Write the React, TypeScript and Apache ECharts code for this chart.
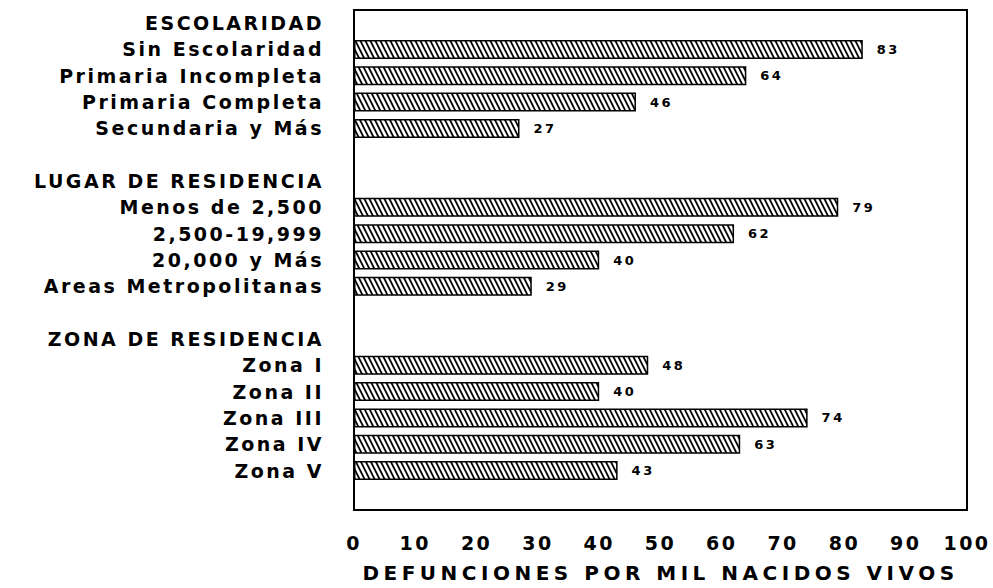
import React, { useEffect, useRef } from "react";
import * as echarts from "echarts";

// ---- data ----
const groupHeaders = ["ESCOLARIDAD", "LUGAR DE RESIDENCIA", "ZONA DE RESIDENCIA"];
const escolaridadLabels = ["Sin Escolaridad", "Primaria Incompleta", "Primaria Completa", "Secundaria y Más"];
const escolaridadValues = [83, 64, 46, 27];
const lugarLabels = ["Menos de 2,500", "2,500-19,999", "20,000 y Más", "Areas Metropolitanas"];
const lugarValues = [79, 62, 40, 29];
const zonaLabels = ["Zona I", "Zona II", "Zona III", "Zona IV", "Zona V"];
const zonaValues = [48, 40, 74, 63, 43];
const xMin = 0;
const xMax = 100;
const xInterval = 10;
const xAxisTitle = "DEFUNCIONES POR MIL NACIDOS VIVOS";

const groups = [
  { header: groupHeaders[0], labels: escolaridadLabels, values: escolaridadValues },
  { header: groupHeaders[1], labels: lugarLabels, values: lugarValues },
  { header: groupHeaders[2], labels: zonaLabels, values: zonaValues },
];

const categories: string[] = [];
const seriesData: (number | null)[] = [];
groups.forEach((g, gi) => {
  categories.push(g.header);
  seriesData.push(null);
  g.labels.forEach((l, i) => {
    categories.push(l);
    seriesData.push(g.values[i]);
  });
  categories.push(" ".repeat(gi + 1));
  seriesData.push(null);
});

const FONT = "DejaVu Sans";

function makeHatch(): HTMLCanvasElement {
  const c = document.createElement("canvas");
  c.width = 5;
  c.height = 10;
  const ctx = c.getContext("2d")!;
  ctx.fillStyle = "#fff";
  ctx.fillRect(0, 0, 5, 10);
  ctx.strokeStyle = "#000";
  ctx.lineWidth = 1.8;
  for (const x0 of [-5, 0, 5]) {
    ctx.beginPath();
    ctx.moveTo(x0 - 0.5, -1);
    ctx.lineTo(x0 + 5.5, 11);
    ctx.stroke();
  }
  return c;
}

export default function App() {
  const ref = useRef<HTMLDivElement>(null);
  useEffect(() => {
    if (!ref.current) return;
    const chart = echarts.init(ref.current, null, { renderer: "svg" });
    const hatch = makeHatch();
    chart.setOption({
      animation: false,
      backgroundColor: "#fff",
      grid: {
        left: 354,
        right: 26,
        top: 10,
        bottom: 71,
        show: true,
        borderColor: "#000",
        borderWidth: 2,
        backgroundColor: "transparent",
      },
      xAxis: {
        type: "value",
        min: xMin,
        max: xMax,
        interval: xInterval,
        axisLine: { show: false },
        axisTick: { show: false },
        splitLine: { show: false },
        axisLabel: {
          color: "#000",
          fontFamily: FONT,
          fontWeight: "bold",
          fontSize: 19,
          margin: 23,
        },
        name: xAxisTitle,
        nameLocation: "middle",
        nameGap: 53,
        nameTextStyle: {
          color: "#000",
          fontFamily: FONT,
          fontWeight: "bold",
          fontSize: 20,
        },
      },
      yAxis: {
        type: "category",
        inverse: true,
        data: categories,
        axisLine: { show: true, lineStyle: { color: "#000", width: 2 } },
        axisTick: { show: false },
        splitLine: { show: false },
        axisLabel: {
          color: "#000",
          fontFamily: FONT,
          fontWeight: "bold",
          fontSize: 19,
          margin: 30,
          interval: 0,
        },
      },
      series: [
        {
          type: "bar",
          data: seriesData,
          barWidth: 19,
          itemStyle: {
            color: { image: hatch, repeat: "repeat" },
            borderColor: "#000",
            borderWidth: 1.5,
          },
          label: {
            show: true,
            position: "right",
            distance: 14,
            color: "#000",
            fontFamily: FONT,
            fontWeight: "bold",
            fontSize: 13,
            formatter: (p: any) => (p.value == null ? "" : String(p.value)),
          },
        },
      ],
    });
    return () => chart.dispose();
  }, []);
  return (
    <>
      <style>{`.hatch-chart svg text { letter-spacing: 2.5px; } .hatch-chart svg text[style*="20px"] { letter-spacing: 4.5px; }`}</style>
      <div
        ref={ref}
        className="hatch-chart"
        style={{ position: "absolute", left: 0, top: 0, width: 993, height: 588 }}
      />
    </>
  );
}
